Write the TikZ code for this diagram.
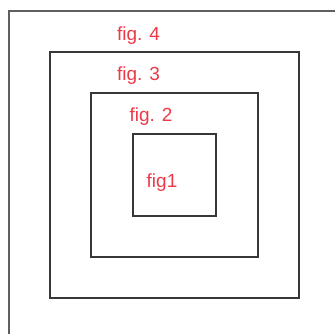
\documentclass[tikz,border=0pt]{standalone}
\usepackage{fontspec}
\setmainfont{Liberation Sans}
\usetikzlibrary{positioning}
\definecolor{FigRed} {RGB}{236,58,72}
\definecolor{BoxLine}{RGB}{55,55,55}
\definecolor{FrmLine}{RGB}{95,95,95}
\tikzset{
  sq_box/.style={
    rectangle, draw=BoxLine, line width=1.6pt,
    inner sep=0pt},
  fig_lbl/.style={
    text=FigRed, font=\fontsize{19}{21}\selectfont,
    inner sep=0pt},
}

\begin{document}
\begin{tikzpicture}[x=1pt,y=-1pt]

%% page
\useasboundingbox (0,0) rectangle (334,334);
\fill[white] (0,0) rectangle (334,334);

%% outer frame (cut at right and bottom)
\draw[FrmLine,line width=1.6pt] (9,340)--(9,11)--(340,11);

%% nested squares
\node[sq_box,minimum width=249pt,minimum height=246pt] at (174.5,175) (S4){};
\node[sq_box,minimum width=167pt,minimum height=164pt] at (174.5,175) (S3){};
\node[sq_box,minimum width=83pt, minimum height=82pt]  at (174.5,175) (S2){};

%% labels
\node[fig_lbl] at (138.5,36)  (L4){fig. 4};
\node[fig_lbl] at (138.5,76)  (L3){fig. 3};
\node[fig_lbl] at (151,117)   (L2){fig. 2};
\node[fig_lbl] at (162,183)   (L1){fig1};

\end{tikzpicture}
\end{document}
